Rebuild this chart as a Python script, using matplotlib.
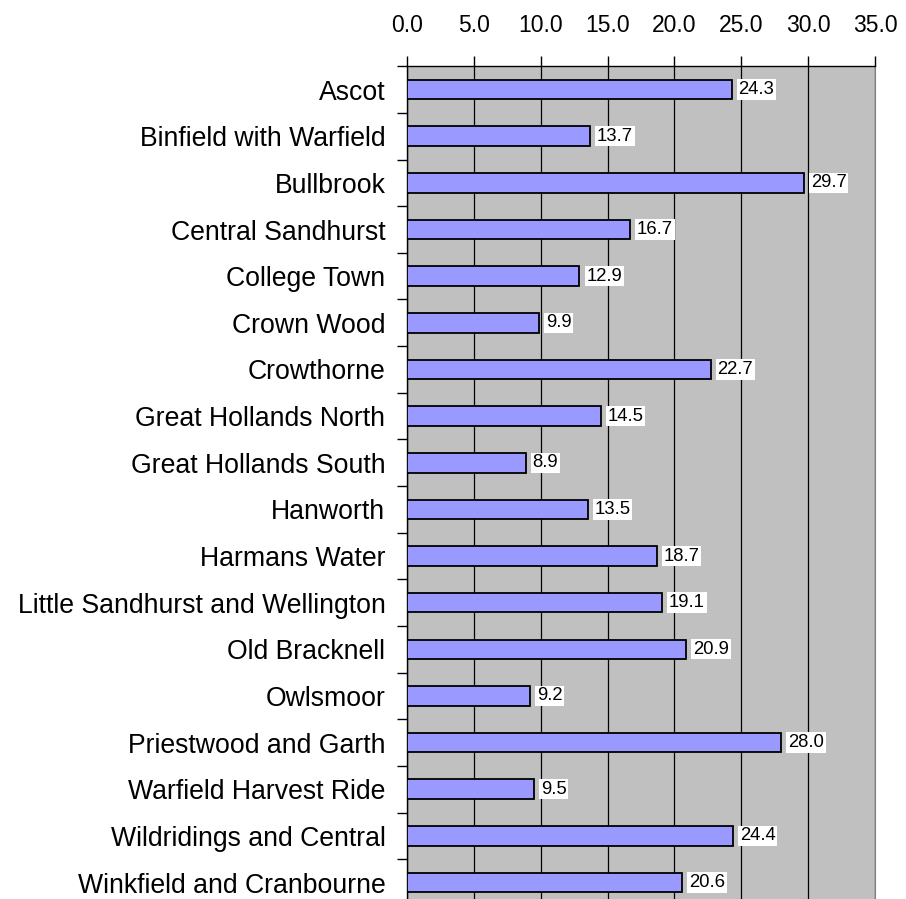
import matplotlib.pyplot as plt
import numpy as np

plt.rcParams['font.family'] = ['Liberation Sans', 'DejaVu Sans']

wards = ["Ascot", "Binfield with Warfield", "Bullbrook", "Central Sandhurst",
         "College Town", "Crown Wood", "Crowthorne", "Great Hollands North",
         "Great Hollands South", "Hanworth", "Harmans Water",
         "Little Sandhurst and Wellington", "Old Bracknell", "Owlsmoor",
         "Priestwood and Garth", "Warfield Harvest Ride",
         "Wildridings and Central", "Winkfield and Cranbourne"]
values = [24.3, 13.7, 29.7, 16.7, 12.9, 9.9, 22.7, 14.5, 8.9, 13.5, 18.7,
          19.1, 20.9, 9.2, 28.0, 9.5, 24.4, 20.6]
xticks = [0, 5, 10, 15, 20, 25, 30, 35]

fig = plt.figure(figsize=(9.06, 8.99), dpi=100)
ax = fig.add_axes([0.4492, -0.0076, 0.5166, 0.9339])
ax.set_facecolor('#C0C0C0')

y = np.arange(len(wards))
ax.barh(y, values, height=0.42, color='#9999FF', edgecolor='black', linewidth=1.3, zorder=3)
for yi, v in zip(y, values):
    ax.text(v + 0.5, yi, f"{v:.1f}", va='center', ha='left', fontsize=13.3,
            bbox=dict(facecolor='white', edgecolor='none', pad=1.2), zorder=4)

ax.set_xlim(0, 35)
ax.set_ylim(len(wards) - 0.5, -0.5)
ax.set_xticks(xticks)
ax.set_xticklabels([f"{t:.1f}" for t in xticks])
ax.xaxis.tick_top()
ax.tick_params(axis='x', direction='out', length=7, width=1, labelsize=16.5, pad=14)
ax.grid(axis='x', color='black', linewidth=0.9, zorder=1)

ax.set_yticks(y)
ax.set_yticklabels(wards)
ax.set_yticks(np.arange(-0.5, len(wards), 1), minor=True)
ax.tick_params(axis='y', which='major', length=0, labelsize=19.2, pad=15.5)
ax.tick_params(axis='y', which='minor', direction='out', length=7, width=1)

ax.spines['right'].set_color('#808080')
ax.spines['bottom'].set_visible(False)
ax.spines['top'].set_linewidth(1)
ax.spines['left'].set_linewidth(1)

fig.savefig('out.png', dpi=100)
